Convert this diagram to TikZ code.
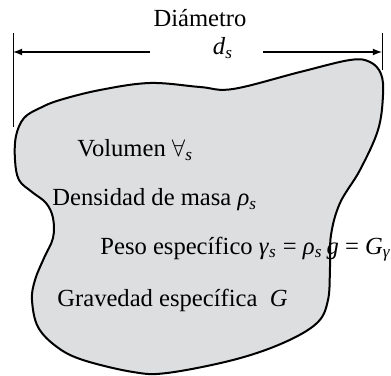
\documentclass[tikz,border=0pt]{standalone}
\usepackage{fontspec}
\setmainfont{Liberation Serif}
\usepackage{xcolor}
\definecolor{solidgray}{RGB}{221, 222, 224}
\newcommand{\isub}[2]{\textit{#1}\textsubscript{\textit{#2}}}

\begin{document}
\begin{tikzpicture}[>=latex, x=0.5pt, y=-0.5pt, font=\fontsize{12.3}{14}\selectfont]
    \useasboundingbox (0,0) rectangle (391,375);

    % Solid particle
    \draw[line width=1pt, fill=solidgray] plot[smooth cycle, tension=0.6] coordinates {
        (24,118) (40,108) (60,100) (100,90) (150,83) (200,87) (233,89) (300,72) (350,60)
        (370,62) (381,74) (383,95) (378,130) (360,170) (340,203) (331,235) (330,267)
        (328,300) (317,323) (283,343) (233,360) (167,373) (133,372) (83,360)
        (57,347) (38,327) (32,300) (35,280) (44,258) (53,238) (53,218)
        (46,203) (32,192) (19,180) (15,160) (16,136)};

    % Diameter
    \coordinate (dimL) at (13,52);
    \coordinate (dimR) at (382,52);
    \coordinate (gapL) at (150,52);
    \coordinate (gapR) at (263,52);
    \draw[thin] (13,33) -- (13,127);
    \draw[thin] (382,33) -- (382,70);
    \draw[->, semithick] (gapL) -- (dimL);
    \draw[->, semithick] (gapR) -- (dimR);
    \node (diam) at (200,18) {Diámetro};
    \node (ds) at (223,48) {\isub{d}{s}};

    % Properties
    \node[anchor=west, inner sep=0] (vol) at (77,150) {Volumen $\forall$\textsubscript{\textit{s}}};
    \node[anchor=west, inner sep=0] (dens) at (52,200) {Densidad de masa \isub{ρ}{s}};
    \node[anchor=west, inner sep=0] (peso) at (100,249) {Peso específico \isub{γ}{s} = \isub{ρ}{s}\,\textit{g} = \isub{G}{γ}};
    \node[anchor=west, inner sep=0] (grav) at (57,300) {Gravedad específica\hspace{0.5em}\textit{G}};
\end{tikzpicture}
\end{document}
